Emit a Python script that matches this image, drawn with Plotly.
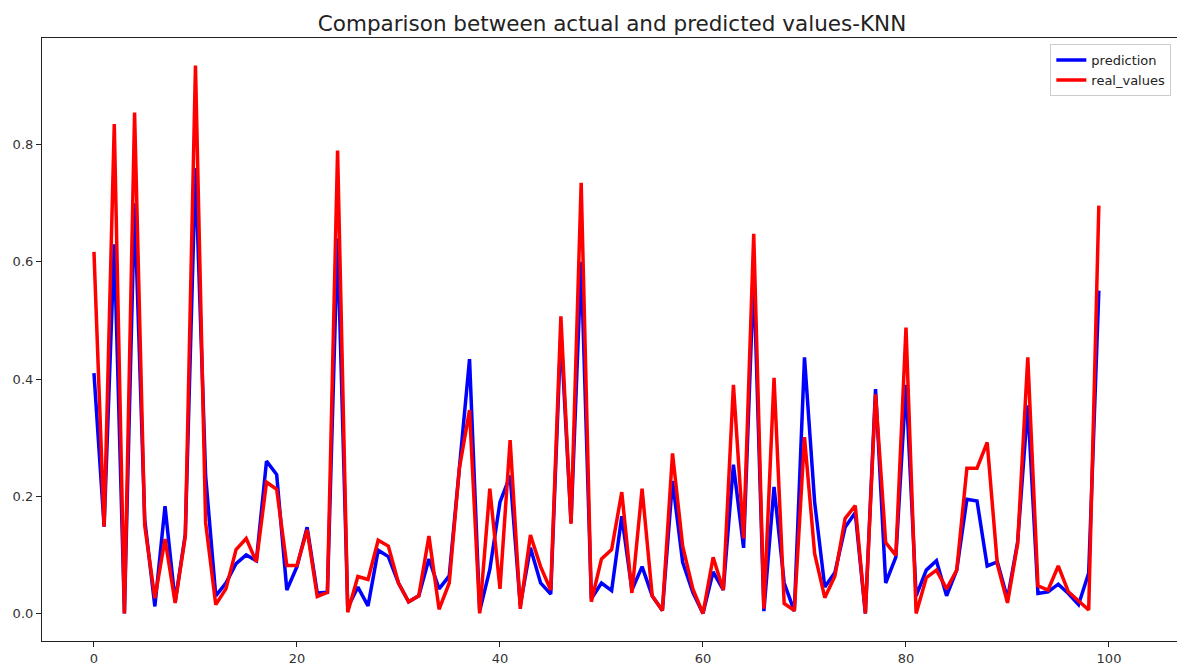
import plotly.graph_objects as go

x_index = list(range(100))

prediction = [
    0.41, 0.148, 0.63, 0.0, 0.70, 0.16, 0.012, 0.183, 0.02, 0.135,
    0.76, 0.235, 0.03, 0.052, 0.085, 0.10, 0.09, 0.26, 0.237, 0.04,
    0.08, 0.147, 0.035, 0.036, 0.64, 0.01, 0.045, 0.013, 0.108, 0.097,
    0.052, 0.02, 0.03, 0.093, 0.042, 0.064, 0.248, 0.434, 0.004, 0.075,
    0.19, 0.235, 0.014, 0.112, 0.052, 0.033, 0.48, 0.155, 0.60, 0.025,
    0.052, 0.039, 0.166, 0.04, 0.08, 0.03, 0.005, 0.226, 0.087, 0.036,
    0.0, 0.071, 0.04, 0.254, 0.112, 0.58, 0.004, 0.216, 0.052, 0.004,
    0.437, 0.19, 0.045, 0.07, 0.147, 0.172, 0.0, 0.383, 0.052, 0.096,
    0.39, 0.03, 0.074, 0.09, 0.03, 0.074, 0.195, 0.192, 0.081, 0.088,
    0.025, 0.122, 0.355, 0.034, 0.037, 0.05, 0.034, 0.015, 0.069, 0.551,
]

real_values = [
    0.617, 0.148, 0.835, 0.0, 0.855, 0.15, 0.026, 0.127, 0.018, 0.132,
    0.935, 0.155, 0.015, 0.042, 0.109, 0.128, 0.088, 0.224, 0.212, 0.082,
    0.082, 0.143, 0.029, 0.036, 0.79, 0.002, 0.063, 0.058, 0.125, 0.115,
    0.052, 0.02, 0.03, 0.132, 0.007, 0.052, 0.248, 0.347, 0.0, 0.213,
    0.042, 0.296, 0.008, 0.134, 0.08, 0.04, 0.507, 0.153, 0.735, 0.02,
    0.093, 0.109, 0.207, 0.035, 0.213, 0.03, 0.005, 0.273, 0.115, 0.042,
    0.0, 0.096, 0.04, 0.39, 0.128, 0.648, 0.008, 0.402, 0.017, 0.005,
    0.301, 0.102, 0.027, 0.064, 0.162, 0.184, 0.0, 0.374, 0.121, 0.099,
    0.488, 0.0, 0.061, 0.074, 0.042, 0.074, 0.248, 0.248, 0.292, 0.084,
    0.018, 0.119, 0.437, 0.047, 0.04, 0.081, 0.037, 0.021, 0.006, 0.696,
]

x_ticks = [0, 20, 40, 60, 80, 100]
y_ticks = [0.0, 0.2, 0.4, 0.6, 0.8]

fig = go.Figure()
fig.add_trace(go.Scatter(x=x_index, y=prediction, mode="lines", name="prediction",
                         line=dict(color="#0000ff", width=3.5)))
fig.add_trace(go.Scatter(x=x_index, y=real_values, mode="lines", name="real_values",
                         line=dict(color="#ff0000", width=3.5)))

axis_common = dict(showline=True, mirror=True, linecolor="#222222", linewidth=1.2,
                   showgrid=False, zeroline=False, ticks="outside", ticklen=5,
                   tickcolor="#222222", tickfont=dict(family="DejaVu Sans", size=13, color="#333333"))

fig.update_layout(
    width=1177, height=668,
    margin=dict(l=42, r=0, t=38, b=27),
    paper_bgcolor="white", plot_bgcolor="white",
    title=dict(text="Comparison between actual and predicted values-KNN",
               x=0.52, xanchor="center", y=0.965, yanchor="middle",
               font=dict(family="DejaVu Sans", size=21.5, color="#222222")),
    xaxis=dict(range=[-5.12, 106.7], tickvals=x_ticks, **axis_common),
    yaxis=dict(range=[-0.047, 0.982], tickvals=y_ticks, tickformat=".1f", **axis_common),
    legend=dict(x=0.995, y=0.99, xanchor="right", yanchor="top",
                bgcolor="rgba(255,255,255,0.85)", bordercolor="#cccccc", borderwidth=1,
                font=dict(family="DejaVu Sans", size=13, color="#222222")),
    showlegend=True,
)

fig.write_html("out.html")
